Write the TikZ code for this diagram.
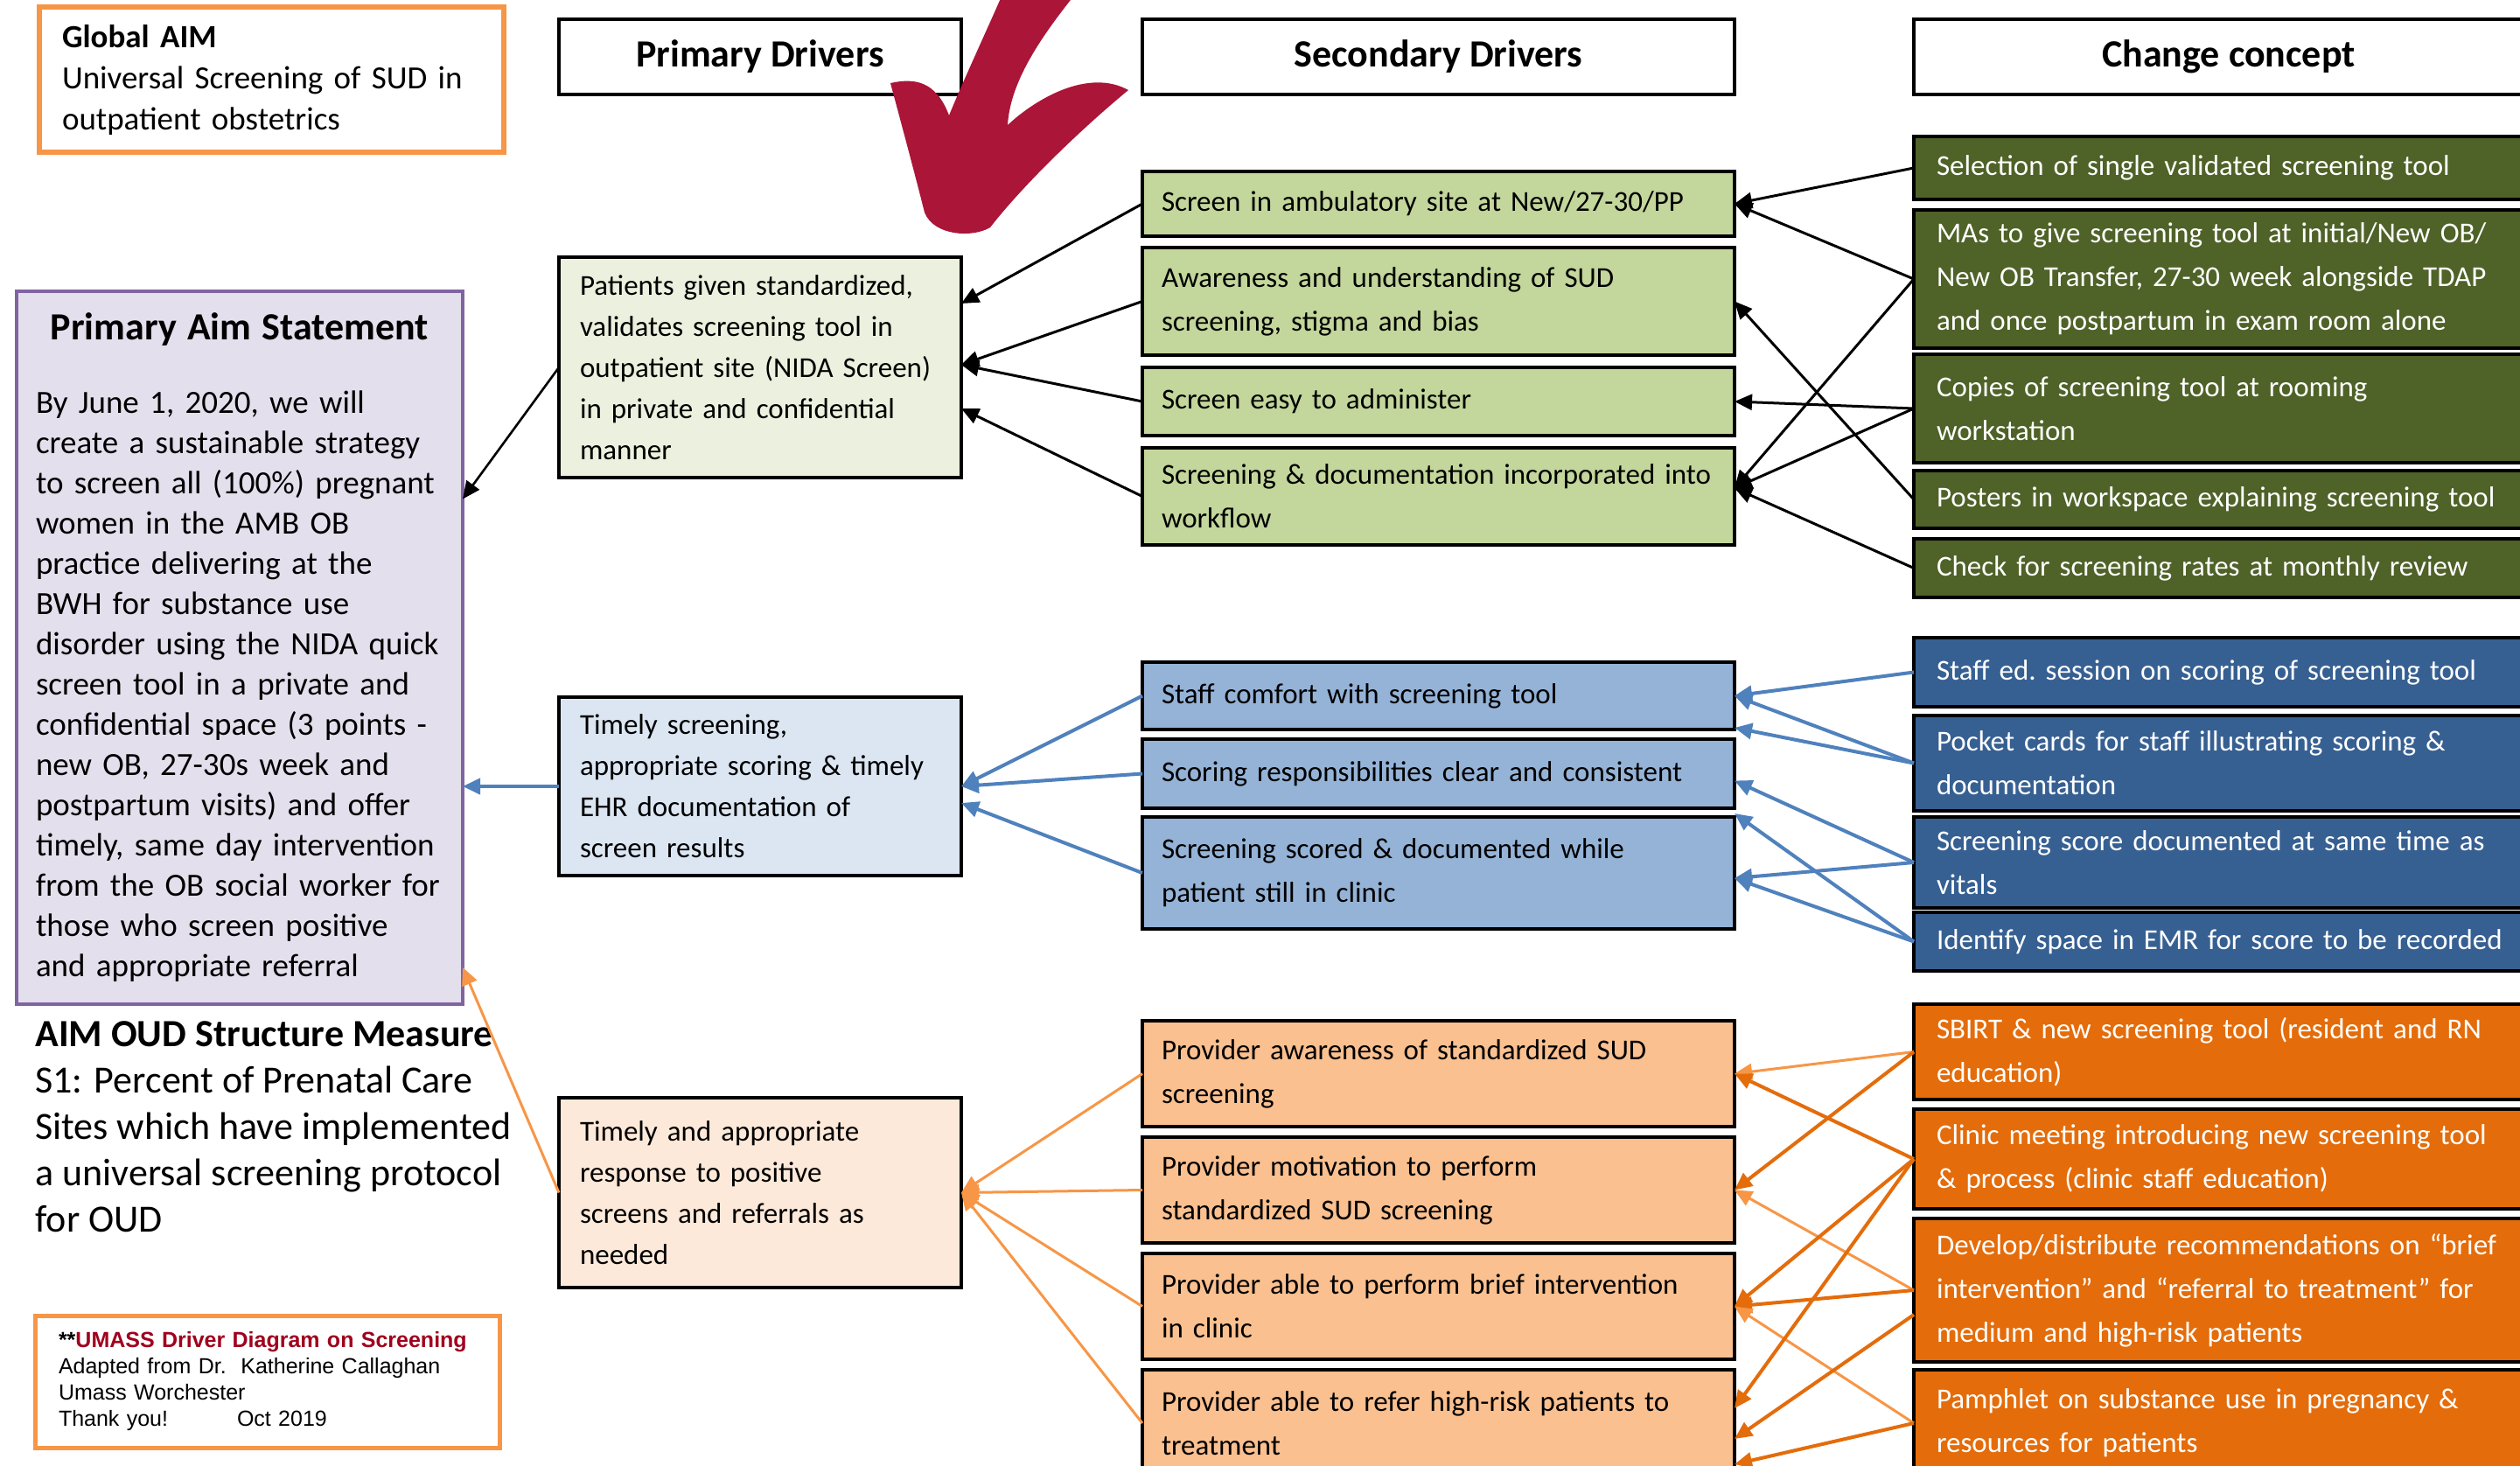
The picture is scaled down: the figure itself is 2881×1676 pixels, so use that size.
\documentclass[tikz,border=0pt]{standalone}
\usepackage{fontspec}
\setmainfont{Carlito}
\newfontfamily\arialfont{Liberation Sans}
\usepackage{tikz}
\usetikzlibrary{
  	positioning,
  	arrows.meta,
  	calc
  }
\definecolor{chgGreen}{HTML}{4F6228}
\definecolor{chgBlue}{HTML}{376092}
\definecolor{chgOrange}{HTML}{E46C0A}
\definecolor{secGreen}{HTML}{C3D69B}
\definecolor{secBlue}{HTML}{95B3D7}
\definecolor{secOrange}{HTML}{FAC090}
\definecolor{priGreen}{HTML}{EBF1DE}
\definecolor{priBlue}{HTML}{DCE6F2}
\definecolor{priOrange}{HTML}{FDE9D9}
\definecolor{aimFill}{HTML}{E4DFEC}
\definecolor{aimLine}{HTML}{8064A2}
\definecolor{aimOrange}{HTML}{F79646}
\definecolor{lineBlue}{HTML}{4F81BD}
\definecolor{lineOrange}{HTML}{F79646}
\definecolor{lineOrangeDk}{HTML}{E46C0A}
\definecolor{checkRed}{RGB}{171,21,56}
\definecolor{umassRed}{RGB}{160,0,30}

\begin{document}
\begin{tikzpicture}[x=.5pt, y=-.5pt,
  box/.style={draw=black, line width=2pt, outer sep=0pt, inner ysep=2pt, align=left, anchor=north west},
  hdr/.style={draw=black, line width=2.2pt, outer sep=0pt, minimum height=43pt, anchor=north west,
    font=\fontsize{22}{26}\selectfont\bfseries},
  pribox/.style={box, minimum width=230pt, inner xsep=12pt, text width=206pt, font=\fontsize{16.5}{23.5}\selectfont},
  secbox/.style={box, minimum width=338.5pt, inner xsep=11pt, text width=316.5pt, font=\fontsize{16.5}{25}\selectfont},
  chgbox/.style={box, inner xsep=13pt, text width=374pt, text=white, font=\fontsize{16.5}{25}\selectfont},
  tip/.style={-{Triangle[length=10pt, width=9pt]}},
  blk/.style={tip, draw=black, line width=1.5pt},
  blu/.style={tip, draw=lineBlue, line width=2pt},
  orl/.style={tip, draw=lineOrange, line width=1.5pt},
  ord/.style={tip, draw=lineOrangeDk, line width=2pt}]
  \useasboundingbox (0,0) rectangle (2881,1676);
  \clip (0,0) rectangle (2881,1676);
  \fill[white] (0,0) rectangle (2881,1676);
%
  \node[box, draw=aimOrange, line width=3pt, minimum width=265.5pt, minimum height=83pt, inner xsep=13pt,
    text width=239.5pt, font=\fontsize{18.5}{23.5}\selectfont] (global) at (45,8)
    {{\bfseries Global AIM}\\ Universal Screening of SUD in\\ outpatient obstetrics};
  \node[box, draw=aimLine, fill=aimFill, minimum width=255pt, minimum height=407.5pt, inner xsep=11pt,
    text width=233pt, font=\fontsize{18.5}{23}\selectfont] (aim) at (19,333)
    {\makebox[233pt][c]{\bfseries\fontsize{22}{25}\selectfont Primary Aim Statement}\\[19pt]
     By June 1, 2020, we will\\ create a sustainable strategy\\ to screen all (100\%) pregnant\\
     women in the AMB OB\\ practice delivering at the\\ BWH for substance use\\
     disorder using the NIDA quick\\ screen tool in a private and\\ confidential space (3 points -\\
     new OB, 27-30s week and\\ postpartum visits) and offer\\ timely, same day intervention\\
     from the OB social worker for\\ those who screen positive\\ and appropriate referral};
  \node[anchor=north west, inner sep=0pt, align=left, font=\fontsize{22}{26.5}\selectfont] (oud) at (40,1167)
    {{\bfseries AIM OUD Structure Measure}\\ S1: Percent of Prenatal Care\\ Sites which have implemented\\
     a universal screening protocol\\ for OUD};
  \node[box, draw=aimOrange, line width=2.5pt, minimum width=265.5pt, minimum height=75.5pt, inner xsep=13.5pt,
    text width=238.5pt, font=\arialfont\fontsize{12.5}{15}\selectfont] (umass) at (40,1504)
    {{\bfseries **\color{umassRed}UMASS Driver Diagram on Screening}\\ Adapted from Dr.~\ Katherine Callaghan\\
     Umass Worchester\\ \makebox[102pt][l]{Thank you!}Oct 2019};
%
  \node[hdr, minimum width=230pt] (hpd) at (639,22) {Primary Drivers};
  \node[hdr, minimum width=338.5pt] (hsd) at (1306,22) {Secondary Drivers};
  \node[hdr, minimum width=360pt] (hcc) at (2188,22) {Change concept};
%
  \node[pribox, fill=priGreen, minimum height=126pt] (pd1) at (639,294)
    {Patients given standardized,\\ validates screening tool in\\ outpatient site (NIDA Screen)\\ in private and confidential\\ manner};
  \node[pribox, fill=priBlue, minimum height=102pt] (pd2) at (639,797)
    {Timely screening,\\ appropriate scoring \& timely\\ EHR documentation of\\ screen results};
  \node[pribox, fill=priOrange, minimum height=108.5pt] (pd3) at (639,1255)
    {Timely and appropriate\\ response to positive\\ screens and referrals as\\ needed};
%
  \node[secbox, fill=secGreen, minimum height=37pt] (s1) at (1306,196) {Screen in ambulatory site at New/27-30/PP};
  \node[secbox, fill=secGreen, minimum height=61.5pt, below=6.5pt of s1] (s2) {Awareness and understanding of SUD\\ screening, stigma and bias};
  \node[secbox, fill=secGreen, minimum height=39pt, below=7pt of s2] (s3) {Screen easy to administer};
  \node[secbox, fill=secGreen, minimum height=55.5pt, below=7pt of s3] (s4) {Screening \& documentation incorporated into\\ workflow};
%
  \node[secbox, fill=secBlue, minimum height=38.5pt] (b1) at (1306,757) {Staff comfort with screening tool};
  \node[secbox, fill=secBlue, minimum height=39.5pt, below=5.5pt of b1] (b2) {Scoring responsibilities clear and consistent};
  \node[secbox, fill=secBlue, minimum height=64pt, below=5pt of b2] (b3) {Screening scored \& documented while\\ patient still in clinic};
%
  \node[secbox, fill=secOrange, minimum height=60.5pt] (o1) at (1306,1167) {Provider awareness of standardized SUD\\ screening};
  \node[secbox, fill=secOrange, minimum height=60.5pt, below=6pt of o1] (o2) {Provider motivation to perform\\ standardized SUD screening};
  \node[secbox, fill=secOrange, minimum height=60.5pt, below=6pt of o2] (o3) {Provider able to perform brief intervention\\ in clinic};
  \node[secbox, fill=secOrange, minimum height=61pt, below=6pt of o3] (o4) {Provider able to refer high-risk patients to\\ treatment};
%
  \node[chgbox, fill=chgGreen, minimum height=36pt] (c1) at (2188,156) {Selection of single validated screening tool};
  \node[chgbox, fill=chgGreen, minimum height=79pt, below=6pt of c1] (c2) {MAs to give screening tool at initial/New OB/\\ New OB Transfer, 27-30 week alongside TDAP\\ and once postpartum in exam room alone};
  \node[chgbox, fill=chgGreen, minimum height=62pt, below=3.5pt of c2] (c3) {Copies of screening tool at rooming\\ workstation};
  \node[chgbox, fill=chgGreen, minimum height=33pt, below=4.5pt of c3] (c4) {Posters in workspace explaining screening tool};
  \node[chgbox, fill=chgGreen, minimum height=33.5pt, below=6pt of c4] (c5) {Check for screening rates at monthly review};
%
  \node[chgbox, fill=chgBlue, minimum height=39.5pt] (d1) at (2188,729) {Staff ed.\ session on scoring of screening tool};
  \node[chgbox, fill=chgBlue, minimum height=54.5pt, below=5pt of d1] (d2) {Pocket cards for staff illustrating scoring \&\\ documentation};
  \node[chgbox, fill=chgBlue, minimum height=52pt, below=3.5pt of d2] (d3) {Screening score documented at same time as\\ vitals};
  \node[chgbox, fill=chgBlue, minimum height=33.5pt, below=2.5pt of d3] (d4) {Identify space in EMR for score to be recorded};
%
  \node[chgbox, fill=chgOrange, minimum height=54.5pt] (e1) at (2188,1148) {SBIRT \& new screening tool (resident and RN\\ education)};
  \node[chgbox, fill=chgOrange, minimum height=57pt, below=5.5pt of e1] (e2) {Clinic meeting introducing new screening tool\\ \& process (clinic staff education)};
  \node[chgbox, fill=chgOrange, minimum height=82pt, below=5.5pt of e2] (e3) {Develop/distribute recommendations on “brief\\ intervention” and “referral to treatment” for\\ medium and high-risk patients};
  \node[chgbox, fill=chgOrange, minimum height=61pt, below=4.5pt of e3] (e4) {Pamphlet on substance use in pregnancy \&\\ resources for patients};
%
  \draw[blk, line width=1.3pt] (pd1.west) -- ([yshift=85pt]aim.east);
  \draw[blu] (pd2.west) -- (pd2.west -| aim.east);
  \draw[orl] (pd3.west) -- ([yshift=-182.75pt]aim.east);
%
  \draw[blk] (s1.west) -- ([yshift=36.5pt]pd1.east);
  \draw[blk] (s2.west) -- ([yshift=1.5pt]pd1.east);
  \draw[blk] (s3.west) -- ([yshift=1.5pt]pd1.east);
  \draw[blk] (s4.west) -- ([yshift=-23.5pt]pd1.east);
  \draw[blu] (b1.west) -- (pd2.east);
  \draw[blu] (b2.west) -- (pd2.east);
  \draw[blu] (b3.west) -- ([yshift=-9.5pt]pd2.east);
  \foreach \n in {o1,o2,o3,o4}
    \draw[orl] (\n.west) -- (pd3.east);
%
  \draw[blk] (c1.west) -- (s1.east);
  \draw[blk] (c2.west) -- (s1.east);
  \draw[blk] (c2.west) -- ([yshift=4.75pt]s4.east);
  \draw[blk] (c3.west) -- (s3.east);
  \draw[blk] (c3.west) -- ([yshift=4.75pt]s4.east);
  \draw[blk] (c4.west) -- (s2.east);
  \draw[blk] (c5.west) -- ([yshift=4.75pt]s4.east);
%
  \draw[blu] (d1.west) -- (b1.east);
  \draw[blu] (d2.west) -- (b1.east);
  \draw[blu] (d2.west) -- ([yshift=1pt]b1.south east);
  \draw[blu] (d3.west) -- ([yshift=-4pt]b2.east);
  \draw[blu] (d3.west) -- ([yshift=-3pt]b3.east);
  \draw[blu] (d4.west) -- ([yshift=-3pt]b2.south east);
  \draw[blu] (d4.west) -- ([yshift=-3pt]b3.east);
%
  \draw[orl] (e1.west) -- (o1.east);
  \draw[ord] (e2.west) -- (o1.east);
  \draw[ord] (e1.west) -- (o2.east);
  \draw[orl] (e3.west) -- (o2.east);
  \draw[ord] (e2.west) -- (o3.east);
  \draw[ord] (e3.west) -- (o3.east);
  \draw[orl] (e4.west) -- (o3.east);
  \draw[ord] (e2.west) -- ([yshift=8.5pt]o4.east);
  \draw[ord] ([yshift=-14pt]e3.west) -- ([yshift=-9pt]o4.east);
  \draw[ord] (e4.west) -- ([yshift=-23.5pt]o4.east);
%
  \fill[checkRed] (1018,95)
    .. controls (1045,89) and (1070,92) .. (1085,132)
    .. controls (1100,95) and (1128,35) .. (1152,-20)
    -- (1240,-20)
    .. controls (1195,35) and (1155,90) .. (1152,143)
    .. controls (1185,112) and (1245,78) .. (1290,103)
    .. controls (1245,140) and (1175,205) .. (1132,260)
    .. controls (1112,272) and (1068,270) .. (1057,243)
    .. controls (1045,195) and (1026,125) .. (1018,95)
    -- cycle;
\end{tikzpicture}
\end{document}
